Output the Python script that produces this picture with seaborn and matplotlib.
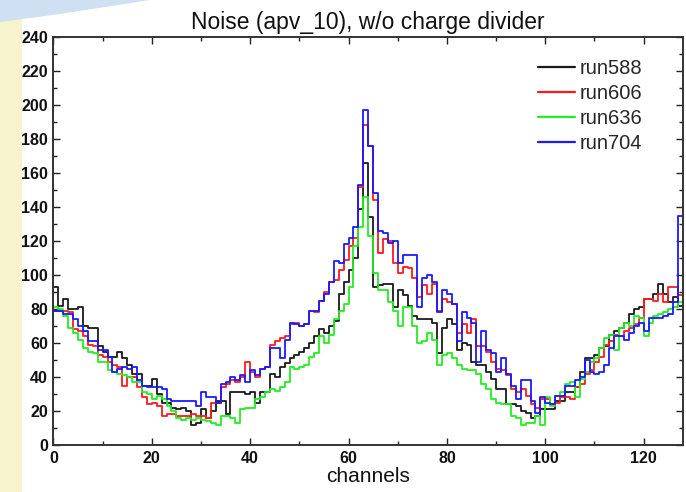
import numpy as np
import pandas as pd
import seaborn as sns
import matplotlib
matplotlib.use("Agg")
import matplotlib.pyplot as plt
from matplotlib.patches import Rectangle, Polygon
from matplotlib.ticker import MultipleLocator

# ---------------- data ----------------
channels = list(range(128))
run_names = ["run588", "run606", "run636", "run704"]

run588 = [93, 82, 86, 80, 80, 81, 70, 69, 69, 58, 55, 52, 52, 55, 51, 47, 42, 42, 35, 35,
          39, 30, 25, 25, 22, 21, 22, 20, 12, 13, 21, 16, 20, 26, 26, 18, 31, 31, 31, 30,
          31, 25, 31, 31, 42, 40, 46, 48, 51, 53, 55, 57, 60, 64, 68, 66, 70, 73, 89, 96,
          103, 110, 139, 166, 134, 93, 94, 95, 95, 81, 91, 88, 82, 76, 74, 74, 74, 72, 54, 69,
          74, 71, 56, 60, 59, 49, 47, 47, 43, 39, 33, 33, 24, 24, 23, 20, 19, 16, 17, 21,
          21, 21, 26, 26, 31, 31, 34, 43, 51, 51, 53, 57, 58, 65, 67, 69, 72, 77, 80, 81,
          86, 86, 89, 95, 89, 84, 87, 82]

run606 = [79, 79, 79, 78, 68, 67, 64, 59, 58, 53, 52, 49, 47, 46, 35, 40, 40, 34, 28, 24,
          25, 23, 17, 18, 18, 17, 17, 17, 18, 17, 17, 16, 25, 25, 34, 36, 38, 37, 40, 49,
          43, 40, 45, 46, 59, 61, 63, 64, 71, 72, 70, 71, 79, 78, 85, 90, 96, 97, 103, 109,
          117, 122, 152, 188, 176, 144, 113, 121, 120, 107, 101, 105, 104, 98, 87, 94, 89, 95, 79, 86,
          84, 83, 66, 71, 66, 74, 58, 58, 55, 49, 45, 44, 41, 33, 31, 33, 29, 24, 22, 27,
          27, 24, 25, 28, 28, 27, 34, 36, 42, 44, 49, 52, 59, 61, 65, 64, 67, 69, 71, 75,
          86, 86, 85, 89, 84, 93, 93, 88]

run636 = [81, 80, 76, 69, 66, 62, 57, 55, 54, 49, 49, 44, 43, 42, 41, 40, 37, 37, 31, 30,
          27, 29, 27, 23, 20, 16, 15, 16, 15, 16, 15, 14, 13, 12, 17, 17, 16, 13, 21, 22,
          22, 27, 28, 31, 33, 32, 34, 37, 46, 45, 46, 47, 52, 54, 64, 60, 65, 74, 79, 83,
          93, 117, 128, 146, 123, 101, 91, 91, 84, 79, 70, 81, 81, 70, 60, 61, 66, 62, 47, 53,
          54, 51, 47, 45, 44, 44, 42, 36, 33, 27, 25, 24, 24, 17, 16, 12, 13, 13, 17, 12,
          28, 23, 29, 31, 36, 37, 28, 39, 43, 49, 51, 57, 63, 65, 56, 69, 72, 70, 76, 75,
          64, 72, 76, 77, 78, 80, 81, 84]

run704 = [79, 79, 77, 77, 74, 70, 67, 61, 61, 56, 56, 52, 43, 45, 46, 45, 46, 38, 35, 34,
          34, 34, 33, 27, 26, 26, 26, 26, 26, 23, 31, 28, 28, 25, 36, 37, 40, 38, 41, 37,
          44, 41, 45, 46, 57, 57, 51, 62, 72, 71, 70, 71, 79, 79, 85, 89, 96, 108, 107, 118,
          122, 128, 153, 197, 176, 148, 126, 125, 119, 120, 107, 112, 112, 112, 81, 98, 100, 96, 78, 91,
          89, 83, 61, 78, 75, 72, 49, 67, 56, 54, 43, 51, 42, 35, 27, 38, 38, 26, 19, 28,
          25, 24, 29, 29, 35, 35, 38, 40, 50, 43, 42, 43, 47, 57, 64, 64, 62, 66, 70, 72,
          67, 75, 75, 75, 76, 77, 84, 135]

series = [run588, run606, run636, run704]
colors = {"run588": "#1a1a1a", "run606": "#ff1a1a", "run636": "#22ee22", "run704": "#1a1aff"}

# long-form table; last value repeated at the right edge so the final step is drawn
rows = []
for name, vals in zip(run_names, series):
    xs = channels + [len(channels)]
    ys = list(vals) + [vals[-1]]
    for x, y in zip(xs, ys):
        rows.append({"channel": x, "noise": y, "run": name})
df = pd.DataFrame(rows)

# ---------------- figure ----------------
sns.set_style("white")
plt.rcParams["font.family"] = ["Liberation Sans", "DejaVu Sans"]

fig = plt.figure(figsize=(6.86, 4.92), dpi=100)
fig.patch.set_facecolor("white")
# slide background decorations
fig.patches.append(Rectangle((0, 0), 22 / 686, 1, transform=fig.transFigure,
                             facecolor="#f7f3cc", edgecolor="none", zorder=0))
fig.patches.append(Polygon([(0, 1), (150 / 686, 1), (60 / 686, 1 - 14 / 492), (0, 1 - 22 / 492)],
                           closed=True, transform=fig.transFigure,
                           facecolor="#cfe0f2", edgecolor="none", zorder=0))

ax = fig.add_axes([53.4 / 686, 1 - 445 / 492, (683 - 53.4) / 686, (445 - 37) / 492])

sns.lineplot(data=df, x="channel", y="noise", hue="run", hue_order=run_names,
             palette=colors, estimator=None, sort=True, drawstyle="steps-post",
             linewidth=1.3, ax=ax, legend=True)

ax.set_xlim(0, 128)
ax.set_ylim(0, 240)
ax.xaxis.set_major_locator(MultipleLocator(20))
ax.xaxis.set_minor_locator(MultipleLocator(10))
ax.yaxis.set_major_locator(MultipleLocator(20))
ax.yaxis.set_minor_locator(MultipleLocator(10))
ax.tick_params(which="both", direction="in", top=True, right=True, bottom=True, left=True,
               color="#222222", width=1.0)
ax.tick_params(which="major", length=5, labelsize=11.5, pad=4)
ax.tick_params(which="minor", length=3)
for lab in ax.get_xticklabels() + ax.get_yticklabels():
    lab.set_fontweight("bold")
    lab.set_color("#111111")
for sp in ax.spines.values():
    sp.set_visible(True)
    sp.set_color("#333333")
    sp.set_linewidth(1.4)

ax.set_xlabel("channels", fontsize=15, labelpad=1, color="#111111")
ax.set_ylabel("")
ax.set_title("Noise (apv_10), w/o charge divider", fontsize=16.5, pad=6, color="#111111")

leg = ax.legend(loc="upper right", bbox_to_anchor=(0.964, 0.99), frameon=False,
                fontsize=14.5, handlelength=1.85, handletextpad=0.2, labelspacing=0.3)
for line in leg.get_lines():
    line.set_linewidth(1.6)

fig.savefig("out.png", dpi=100)
